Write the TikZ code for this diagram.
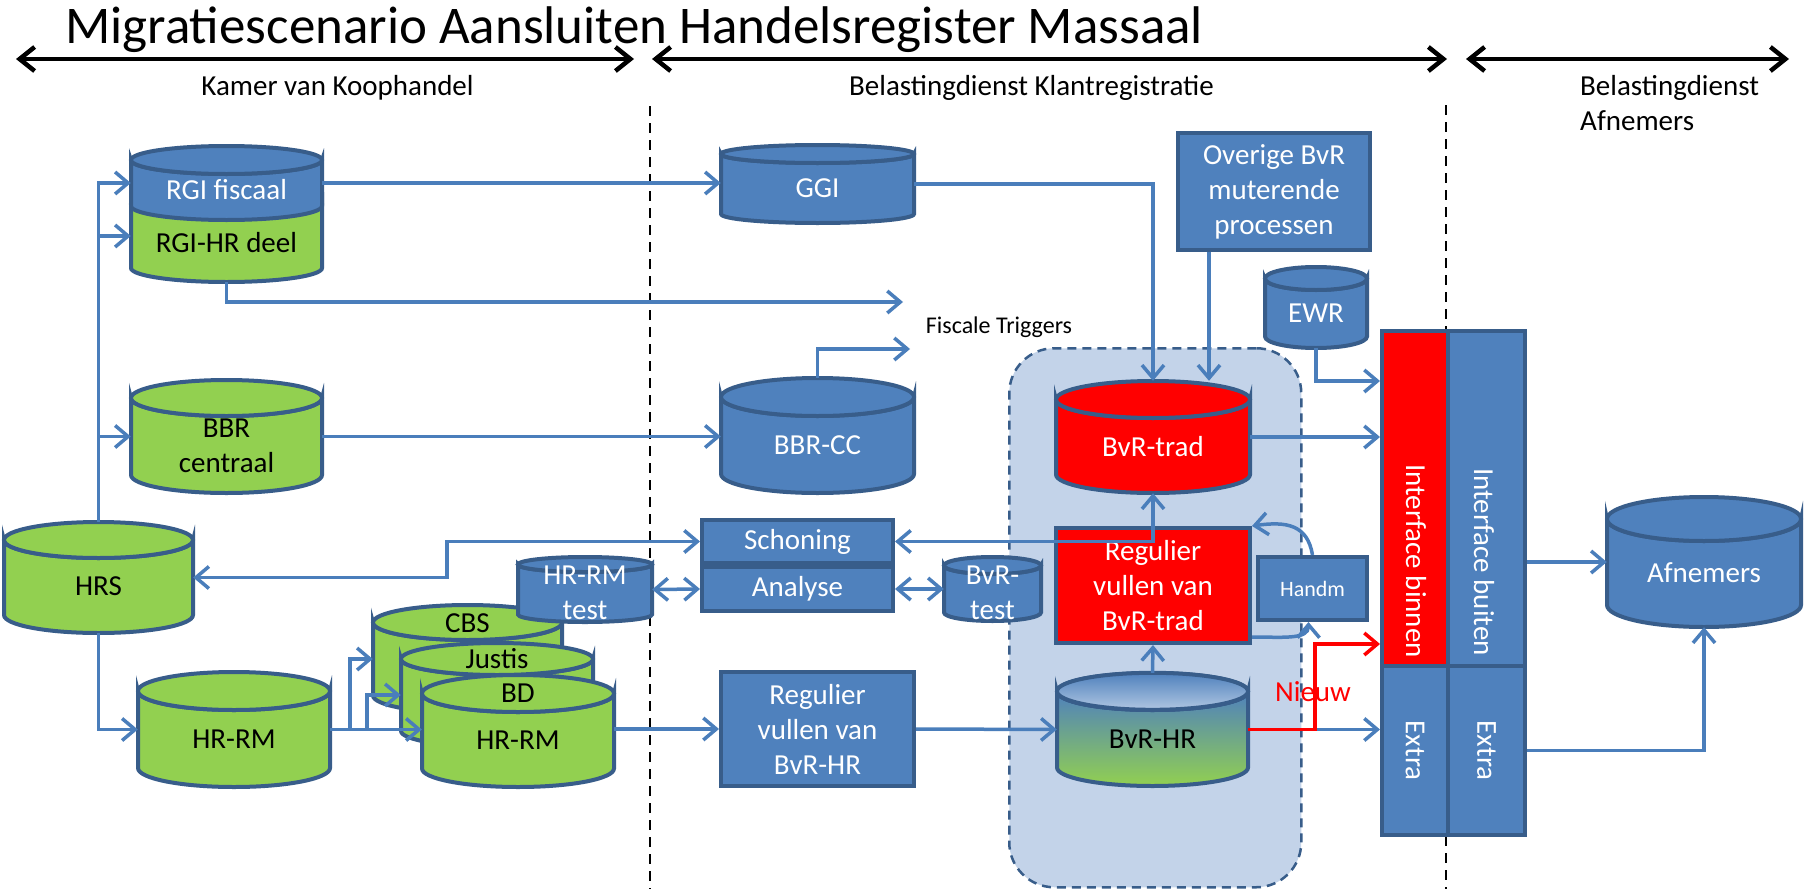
\documentclass[tikz,border=0pt]{standalone}
\usepackage{fontspec}
\setmainfont{Carlito}
\usetikzlibrary{arrows.meta}

\definecolor{cblue}{HTML}{4F81BD}
\definecolor{cdark}{HTML}{385D8A}
\definecolor{cgreen}{HTML}{92D050}
\definecolor{cred}{HTML}{FF0000}
\definecolor{cline}{HTML}{4A7EBB}
\definecolor{cpale}{HTML}{C3D3E9}

\tikzset{
	cylline/.style={draw=cdark, line width=4pt},
	lbl/.style={font=\fontsize{29}{35}\selectfont, align=center, inner sep=0pt},
	procbox/.style={lbl, draw=cdark, line width=4pt, fill=cblue, text=white},
	cellbox/.style={draw=cdark, line width=4pt, fill=cblue, inner sep=0pt, anchor=north west},
	flow/.style={draw=cline, line width=3.5pt, ->},
	flowboth/.style={draw=cline, line width=3.5pt, <->},
	newflow/.style={draw=cred, line width=3.5pt, ->},
	span/.style={draw=black, line width=4.5pt, {Straight Barb[length=15pt,width=24pt]}-{Straight Barb[length=15pt,width=24pt]}},
	sep/.style={draw=black, line width=2pt, dash pattern=on 10pt off 7pt},
	region/.style={draw=cdark, line width=2.5pt, dash pattern=on 9pt off 6pt, fill=cpale, rounded corners=45pt, inner sep=0pt, anchor=north west}
}

% database drum: [text colour]{name}{x1}{y1}{x2}{y2}{ry}{fill}{text}
\newcommand{\dbcyl}[9][white]{%
	\pgfmathsetmacro\cylcx{(#3+#5)/2}
	\pgfmathsetmacro\cylrx{(#5-#3)/2}
	\pgfmathsetmacro\cylcy{(#4+#6)/2}
	\pgfmathsetmacro\cylty{(#4+#7+#6)/2}
	\pgfmathsetmacro\cylw{#5-#3}
	\pgfmathsetmacro\cylh{#6-#4}
	\path[cylline, #8] (#3,#4+#7) -- (#3,#6-#7)
		arc[start angle=180, end angle=0, x radius=\cylrx, y radius=#7]
		-- (#5,#4+#7)
		arc[start angle=0, end angle=180, x radius=\cylrx, y radius=#7] -- cycle;
	\path[cylline, #8] (\cylcx,#4+#7) ellipse[x radius=\cylrx, y radius=#7];
	\node[inner sep=0pt, minimum width=\cylw pt, minimum height=\cylh pt] (#2) at (\cylcx,\cylcy) {};
	\node[lbl, text=#1] (#2-t) at (\cylcx,\cylty) {#9};
}

\begin{document}
\begin{tikzpicture}[x=1pt, y=-1pt, >={Straight Barb[length=13pt,width=22pt]}]
	\useasboundingbox[fill=white] (0,0) rectangle (1805,889);

	% heading and the three parties
	\node[font=\fontsize{53}{60}\selectfont, anchor=base west, inner sep=0pt] (title) at (65,43) {Migratiescenario Aansluiten Handelsregister Massaal};
	\draw[span] (16,59) -- (634,59);
	\draw[span] (652,59) -- (1447,59);
	\draw[span] (1466,59) -- (1789,59);
	\node[lbl, anchor=base] (kvk) at (337.5,95) {Kamer van Koophandel};
	\node[lbl, anchor=base] (bdk) at (1031.5,95) {Belastingdienst Klantregistratie};
	\node[lbl, align=left, anchor=north west] (bda) at (1580,75) {Belastingdienst\\Afnemers};
	\draw[sep] (650,106) -- (650,889);
	\draw[sep] (1446,105) -- (1446,889);

	\node[region, minimum width=292pt, minimum height=539pt] (bvrzone) at (1008,347) {};

	% stores
	\dbcyl[black]{cbs}{373}{605}{562}{713}{17.5}{fill=cgreen}{}
	\dbcyl[black]{justis}{401}{643}{593}{747}{16}{fill=cgreen}{}
	\dbcyl[black]{bd}{422}{675}{614}{787}{18.5}{fill=cgreen}{HR-RM}
	\node[lbl] (cbs-l) at (467.5,623) {CBS};
	\node[lbl] (justis-l) at (497,659) {Justis};
	\node[lbl] (bd-l) at (518,693) {BD};
	\dbcyl{hrrmt}{518}{557}{652}{622}{7.5}{fill=cblue}{HR-RM\\test}
	\dbcyl[black]{rgihr}{131}{190}{322}{282}{14}{fill=cgreen}{RGI-HR deel}
	\dbcyl{rgi}{131}{146}{322}{220}{14}{fill=cblue}{RGI fiscaal}
	\dbcyl{ggi}{721}{145}{914}{223}{9}{fill=cblue}{GGI}
	\dbcyl[black]{bbr}{131}{380}{322}{493}{18}{fill=cgreen}{BBR\\centraal}
	\dbcyl{bbrcc}{721}{378}{914}{493}{19}{fill=cblue}{BBR-CC}
	\dbcyl{bvrtrad}{1056}{381}{1250}{493}{18.5}{fill=cred}{BvR-trad}
	\dbcyl{ewr}{1265}{267}{1367}{348}{11.5}{fill=cblue}{EWR}
	\dbcyl[black]{hrs}{4}{522}{193}{633}{18}{fill=cgreen}{HRS}
	\dbcyl[black]{hrrm}{138}{672}{330}{787}{19}{fill=cgreen}{HR-RM}
	\dbcyl{bvrt}{944}{557}{1041}{621}{8.5}{fill=cblue}{BvR-\\test}
	\dbcyl[black]{bvrhr}{1057}{673}{1248}{786}{18.5}{top color=cblue, middle color=cpale, bottom color=cgreen}{BvR-HR}
	\path[cylline, top color=cblue, bottom color=cblue!45] (bvrhr.north) ++(0,18.5) ellipse[x radius=95.5, y radius=18.5];
	\dbcyl{afn}{1607}{497}{1801}{627}{22}{fill=cblue}{Afnemers}

	% processes
	\node[procbox, minimum width=192pt, minimum height=117pt] (overige) at (1274,191.5) {Overige BvR\\muterende\\processen};
	\node[procbox, minimum width=191pt, minimum height=43pt] (schon) at (797.5,541.5) {Schoning};
	\node[procbox, minimum width=191pt, minimum height=44pt] (analyse) at (797.5,589) {Analyse};
	\node[procbox, fill=cred, minimum width=194pt, minimum height=115pt] (regtrad) at (1153,585.5) {Regulier\\vullen van\\BvR-trad};
	\node[procbox, minimum width=109pt, minimum height=63pt, font=\fontsize{22}{26}\selectfont] (handm) at (1312.5,588.5) {Handm};
	\node[procbox, minimum width=193pt, minimum height=114pt] (reghr) at (817.5,729) {Regulier\\vullen van\\BvR-HR};

	% interface block
	\node[cellbox, fill=cred, minimum width=66pt, minimum height=335pt] (binnen) at (1380,329) {};
	\node[cellbox, minimum width=77pt, minimum height=335pt] (buiten) at (1446,329) {};
	\node[cellbox, minimum width=66pt, minimum height=169pt] (extra1) at (1380,664) {};
	\node[cellbox, minimum width=77pt, minimum height=169pt] (extra2) at (1446,664) {};
	\node[lbl, text=white, rotate=-90] (binnen-t) at (1416,561) {Interface binnen};
	\node[lbl, text=white, rotate=-90] (buiten-t) at (1484,562) {Interface buiten};
	\node[lbl, text=white, rotate=-90] (extra1-t) at (extra1) {Extra};
	\node[lbl, text=white, rotate=-90] (extra2-t) at (extra2) {Extra};

	% flows
	\draw[flow] (hrs.north) |- (rgi.west);
	\draw[flow] (hrs.north) |- (rgihr.west);
	\draw[flow] (hrs.north) |- (bbr.west);
	\draw[flow] (hrs.south) |- (hrrm.west);
	\draw[flow] (hrrm.east) -- (hrrm.east -| bd.west);
	\draw[flow] ([xshift=20pt]hrrm.east) |- (cbs.west);
	\draw[flow] ([xshift=37pt]hrrm.east) |- (justis.west);
	\draw[flowboth] (hrs.east) -- ++(254,0) |- (schon.west);
	\draw[flow] (rgi.east) -- (rgi.east -| ggi.west);
	\coordinate (trigA) at (903,302);
	\coordinate (trigB) at (910,349);
	\draw[flow] (rgihr.south) |- (trigA);
	\draw[flow] (bbrcc.north) |- (trigB);
	\node[font=\fontsize{24}{28}\selectfont, inner sep=0pt] (fiscal) at (999,327) {Fiscale Triggers};
	\draw[flow] (bbr.east) -- (bbr.east -| bbrcc.west);
	\draw[flow] (reghr.west -| bd.east) -- (reghr.west);
	\draw[flow] (reghr.east) -- (bvrhr.west);
	\draw[flowboth] (hrrmt.east) -- (analyse.west);
	\draw[flowboth] (analyse.east) -- (bvrt.west);
	\draw[flowboth] (schon.east) -| (bvrtrad.south);
	\draw[flow] (ggi.east) -| (bvrtrad.north);
	\draw[flow] ([xshift=-65pt]overige.south) -- ([xshift=-65pt]overige.south |- bvrtrad.north);
	\draw[flow] (bvrhr.north) -- (regtrad.south);
	\draw[flow] (handm.north) .. controls +(-5,-30) and +(35,-5) .. (regtrad.north east);
	\draw[flow] ([yshift=8pt]regtrad.south east) .. controls +(30,0) and +(0,18) .. ([xshift=-4pt]handm.south);
	\draw[flow] (ewr.south) |- ([yshift=-52pt]binnen.north west);
	\draw[flow] (bvrtrad.east) -- (bvrtrad.east -| binnen.west);
	\draw[flow] (bvrhr.east) -- (bvrhr.east -| extra1.west);
	\draw[newflow] (bvrhr.east) -- ++(67,0) |- ([yshift=24pt]binnen.south west);
	\node[lbl, text=cred] (nieuw) at (1313,692) {Nieuw};
	\draw[flow] (buiten.east |- afn.west) -- (afn.west);
	\draw[flow] (extra2.east) -| (afn.south);
\end{tikzpicture}
\end{document}
